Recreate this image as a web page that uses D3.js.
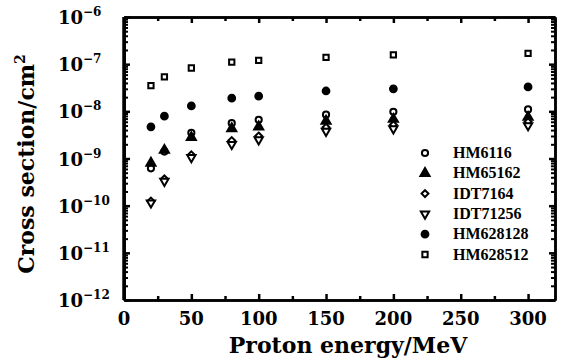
<!DOCTYPE html>
<html>
<head>
<meta charset="utf-8">
<script src="https://cdn.jsdelivr.net/npm/d3@7"></script>
<style>
  body { margin: 0; background: #fff; }
  text { font-family: "DejaVu Serif", serif; font-weight: bold; fill: #000; }
</style>
</head>
<body>
<div id="chart"></div>
<script>
var energies = [20, 30, 50, 80, 100, 150, 200, 300];
var hm6116   = [6.2e-10, 1.4e-9, 3.5e-9, 5.6e-9, 6.6e-9, 8.5e-9, 9.8e-9, 1.1e-8];
var hm65162  = [8e-10, 1.5e-9, 2.8e-9, 4.3e-9, 4.7e-9, 6.2e-9, 6.8e-9, 7.5e-9];
var idt7164  = [1.25e-10, 3.7e-10, 1.2e-9, 2.4e-9, 3e-9, 4.6e-9, 5.2e-9, 6e-9];
var idt71256 = [1.15e-10, 3.3e-10, 1.05e-9, 2e-9, 2.5e-9, 3.8e-9, 4.3e-9, 5e-9];
var hm628128 = [4.7e-9, 7.9e-9, 1.3e-8, 1.9e-8, 2.1e-8, 2.7e-8, 3e-8, 3.3e-8];
var hm628512 = [3.5e-8, 5.4e-8, 8.3e-8, 1.1e-7, 1.2e-7, 1.4e-7, 1.58e-7, 1.7e-7];
var seriesNames = ["HM6116", "HM65162", "IDT7164", "IDT71256", "HM628128", "HM628512"];
var xTicks = [0, 50, 100, 150, 200, 250, 300];
var yExponents = [-6, -7, -8, -9, -10, -11, -12];

var series = [
  { name: seriesNames[0], values: hm6116, sym: d3.symbolCircle, fill: false, size: 30, rot: 0 },
  { name: seriesNames[1], values: hm65162, sym: d3.symbolTriangle, fill: true, size: 36, rot: 0 },
  { name: seriesNames[2], values: idt7164, sym: d3.symbolDiamond2, fill: false, size: 30, rot: 0 },
  { name: seriesNames[3], values: idt71256, sym: d3.symbolTriangle, fill: false, size: 30, rot: 180 },
  { name: seriesNames[4], values: hm628128, sym: d3.symbolCircle, fill: true, size: 36, rot: 0 },
  { name: seriesNames[5], values: hm628512, sym: d3.symbolSquare, fill: false, size: 28, rot: 0 }
];

var W = 564, H = 363;
var pLeft = 124, pRight = 555, pTop = 17, pBottom = 300;

var x = d3.scaleLinear().domain([0, 320]).range([pLeft, pRight]);
var y = d3.scaleLog().domain([1e-12, 1e-6]).range([pBottom, pTop]);

var svg = d3.select("#chart").append("svg")
    .attr("width", W).attr("height", H);

// minor y ticks
var yMinor = [];
for (var e = -12; e < -6; e++) {
  for (var m = 2; m <= 9; m++) yMinor.push(m * Math.pow(10, e));
}
var yMajor = yExponents.map(function(e) { return Math.pow(10, e); });

function frameAxis(axis, tx, ty) {
  var g = svg.append("g").attr("transform", "translate(" + tx + "," + ty + ")").call(axis);
  g.selectAll("text").remove();
  g.select(".domain").attr("stroke-width", 2.5).attr("stroke", "#000");
  g.selectAll(".tick line").attr("stroke", "#000").attr("stroke-width", 2.5);
  return g;
}

// left / right axes
frameAxis(d3.axisLeft(y).tickValues(yMajor).tickSize(-6).tickSizeOuter(0), pLeft, 0);
frameAxis(d3.axisLeft(y).tickValues(yMinor).tickSize(-4).tickSizeOuter(0), pLeft, 0)
  .selectAll(".tick line").attr("stroke-width", 2);
frameAxis(d3.axisRight(y).tickValues(yMajor).tickSize(-6).tickSizeOuter(0), pRight, 0);
frameAxis(d3.axisRight(y).tickValues(yMinor).tickSize(-4).tickSizeOuter(0), pRight, 0)
  .selectAll(".tick line").attr("stroke-width", 2);

// bottom / top axes
var xMinor = d3.range(25, 320, 50);
frameAxis(d3.axisBottom(x).tickValues(xTicks).tickSize(-6).tickSizeOuter(0), 0, pBottom);
frameAxis(d3.axisBottom(x).tickValues(xMinor).tickSize(-4).tickSizeOuter(0), 0, pBottom);
frameAxis(d3.axisTop(x).tickValues(xTicks).tickSize(-6).tickSizeOuter(0), 0, pTop);
frameAxis(d3.axisTop(x).tickValues(xMinor).tickSize(-4).tickSizeOuter(0), 0, pTop);

// thicker left spine
svg.append("line").attr("x1", pLeft).attr("x2", pLeft).attr("y1", pTop).attr("y2", pBottom)
  .attr("stroke", "#000").attr("stroke-width", 3.5);

// x tick labels
svg.selectAll(".xlab").data(xTicks).enter().append("text")
  .attr("x", function(d) { return x(d); })
  .attr("y", 325)
  .attr("text-anchor", "middle")
  .style("font-size", "18px")
  .text(function(d) { return d; });

// y tick labels
var yl = svg.selectAll(".ylab").data(yExponents).enter().append("text")
  .attr("x", 58)
  .attr("y", function(d) { return y(Math.pow(10, d)) + 7; })
  .style("font-size", "18px");
yl.append("tspan").text("10");
yl.append("tspan").attr("dy", -8).style("font-size", "12px")
  .text(function(d) { return "\u2212" + (-d); });

// axis titles
svg.append("text")
  .attr("x", 348).attr("y", 353)
  .attr("text-anchor", "middle")
  .style("font-size", "22px")
  .text("Proton energy/MeV");

var yt = svg.append("text")
  .attr("transform", "translate(34,164) rotate(-90)")
  .attr("text-anchor", "middle")
  .style("font-size", "22px");
yt.append("tspan").text("Cross section/cm");
yt.append("tspan").attr("dy", -9).style("font-size", "14px").text("2");

// points
series.forEach(function(s) {
  var sym = d3.symbol().type(s.sym).size(s.size);
  svg.append("g").selectAll("path").data(s.values).enter().append("path")
    .attr("d", sym)
    .attr("transform", function(d, i) {
      return "translate(" + x(energies[i]) + "," + y(d) + ") rotate(" + s.rot + ")";
    })
    .attr("fill", s.fill ? "#000" : "#fff")
    .attr("stroke", "#000")
    .attr("stroke-width", 2);
});

// legend
var legend = svg.append("g");
series.forEach(function(s, i) {
  var ly = 153 + i * 20.3;
  legend.append("path")
    .attr("d", d3.symbol().type(s.sym).size(s.size))
    .attr("transform", "translate(425," + ly + ") rotate(" + s.rot + ")")
    .attr("fill", s.fill ? "#000" : "#fff")
    .attr("stroke", "#000")
    .attr("stroke-width", 2);
  legend.append("text")
    .attr("x", 453).attr("y", ly + 5)
    .style("font-family", "'Liberation Serif', serif")
    .style("font-size", "16px")
    .text(s.name);
});
</script>
</body>
</html>
